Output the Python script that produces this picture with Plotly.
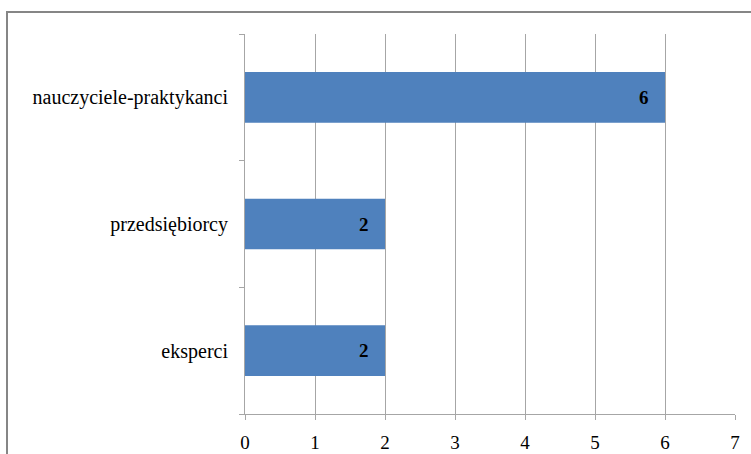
import plotly.graph_objects as go

categories = ["eksperci", "przedsiębiorcy", "nauczyciele-praktykanci"]
values = [2, 2, 6]
x_ticks = [0, 1, 2, 3, 4, 5, 6, 7]

W, H = 751, 454
ML, MR, MT, MB = 245, 16, 34, 40
FONT = "Liberation Serif"

fig = go.Figure()
fig.add_trace(go.Bar(
    y=categories, x=values, orientation="h",
    marker=dict(color="#4F81BD", line=dict(width=0)),
    hoverinfo="skip",
))

for c, v in zip(categories, values):
    fig.add_annotation(
        x=v, y=c, xref="x", yref="y", text=f"<b>{v}</b>",
        showarrow=False, xanchor="right", xshift=-14,
        font=dict(family=FONT, size=19, color="#000000"),
    )

pw = W - ML - MR
ph = H - MT - MB
fig.add_shape(
    type="rect", xref="paper", yref="paper",
    x0=(7 - ML) / pw, x1=(W + 20 - ML) / pw,
    y0=(H - MB - (H + 20)) / ph, y1=(H - MB - 12) / ph,
    line=dict(color="#868686", width=2), fillcolor="rgba(0,0,0,0)", layer="below",
)

fig.update_layout(
    width=W, height=H,
    margin=dict(l=ML, r=MR, t=MT, b=MB),
    paper_bgcolor="white", plot_bgcolor="white",
    showlegend=False,
    bargap=0.6,
    font=dict(family=FONT, size=19, color="#000000"),
    xaxis=dict(
        range=[0, 7], tickvals=x_ticks, ticktext=[str(t) for t in x_ticks],
        tickfont=dict(family=FONT, size=19, color="#000000"),
        showgrid=True, gridcolor="#A6A6A6", gridwidth=1,
        showline=True, linecolor="#A6A6A6", linewidth=1,
        ticks="outside", ticklen=5, tickcolor="#A6A6A6",
        ticklabelstandoff=6, automargin=False,
        zeroline=False, fixedrange=True,
    ),
    yaxis=dict(
        categoryorder="array", categoryarray=categories,
        tickfont=dict(family=FONT, size=20, color="#000000"),
        showgrid=False, showline=True, linecolor="#A6A6A6", linewidth=1,
        ticks="outside", ticklen=5, tickcolor="#A6A6A6", tickson="boundaries",
        ticklabelstandoff=12, automargin=False,
        zeroline=False, fixedrange=True,
    ),
)

fig.write_html("out.html", config={"displayModeBar": False})
